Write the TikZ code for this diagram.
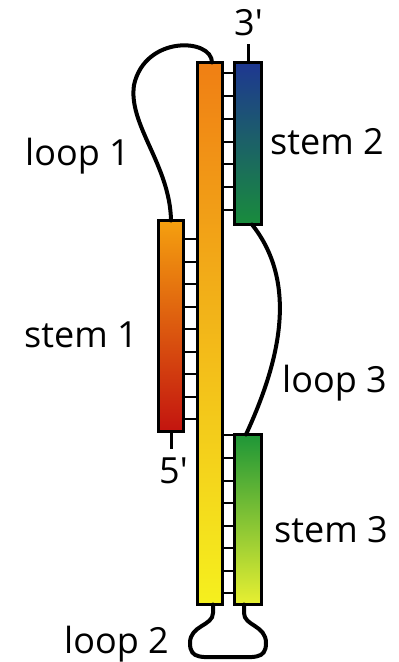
\documentclass[tikz,border=0pt]{standalone}
\usepackage{fontspec}
\setmainfont{Open Sans}[Ligatures=TeXOff]
\definecolor{cTop}{RGB}{240,127,20}
\definecolor{cBot}{RGB}{245,240,30}
\definecolor{sAtop}{RGB}{245,160,15}
\definecolor{sAbot}{RGB}{195,20,15}
\definecolor{sBtop}{RGB}{30,55,145}
\definecolor{sBbot}{RGB}{25,140,60}
\definecolor{sCtop}{RGB}{30,150,55}
\definecolor{sCbot}{RGB}{232,240,50}
\begin{document}
\begin{tikzpicture}[x=1pt,y=-1pt,
  box/.style={draw=black, line width=3pt, inner sep=0pt, outer sep=0pt},
  rung/.style={draw=black, line width=2pt},
  strand/.style={draw=black, line width=4pt, line cap=round},
  tick/.style={draw=black, line width=3pt},
  lab/.style={anchor=base west, inner sep=0pt, font=\fontsize{36}{40}\selectfont}]
\useasboundingbox (0,0) rectangle (399,662);
% boxes
\node[box, minimum width=25pt, minimum height=542pt, top color=cTop, bottom color=cBot] (c) at (210,333.5) {};
\node[box, minimum width=27pt, minimum height=162pt, top color=sBtop, bottom color=sBbot] (s2) at (248,143.5) {};
\node[box, minimum width=25pt, minimum height=211pt, top color=sAtop, bottom color=sAbot] (s1) at (171,326) {};
\node[box, minimum width=27pt, minimum height=170pt, top color=sCtop, bottom color=sCbot] (s3) at (248,519.5) {};
% rungs
\foreach \y in {239,261.5,284,306.5,329,351.5,374,396.5,419}
  \draw[rung] (s1.east |- 0,\y) -- (c.west |- 0,\y);
\foreach \y in {73,96,119,142,164,187,210}
  \draw[rung] (c.east |- 0,\y) -- (s2.west |- 0,\y);
\foreach \y in {435,458,481,503,526,548,571,593}
  \draw[rung] (c.east |- 0,\y) -- (s3.west |- 0,\y);
% loops
\draw[strand] ([xshift=2pt]c.north) .. controls (212,38) and (145,35) .. (134,85)
  .. controls (128,125) and (170,165) .. (s1.north);
\draw[strand] ([xshift=4pt]s2.south) .. controls (300,285) and (278,365) .. ([xshift=-2pt]s3.north);
\draw[strand] ([xshift=3pt]c.south) -- (213,613) .. controls (213,626) and (190,625) .. (190,643)
  .. controls (190,660) and (202,657) .. (228,657)
  .. controls (254,657) and (266,660) .. (266,643)
  .. controls (266,625) and (244,626) .. (244,613) -- ([xshift=-4pt]s3.south);
% ends
\coordinate (e5) at (171,449);
\coordinate (e3) at (248,44);
\draw[tick] (s1.south) -- (e5);
\draw[tick] (s2.north) -- (e3);
% labels
\node[lab] (l5) at (159,483) {5'};
\node[lab] (l3) at (234,35) {3'};
\node[lab] (tl1) at (25,165) {loop 1};
\node[lab] (ts2) at (270,154) {stem 2};
\node[lab] (ts1) at (24,347) {stem 1};
\node[lab] (tl3) at (282,392) {loop 3};
\node[lab] (ts3) at (274,542) {stem 3};
\node[lab] (tl2) at (64,653) {loop 2};
\end{tikzpicture}
\end{document}
